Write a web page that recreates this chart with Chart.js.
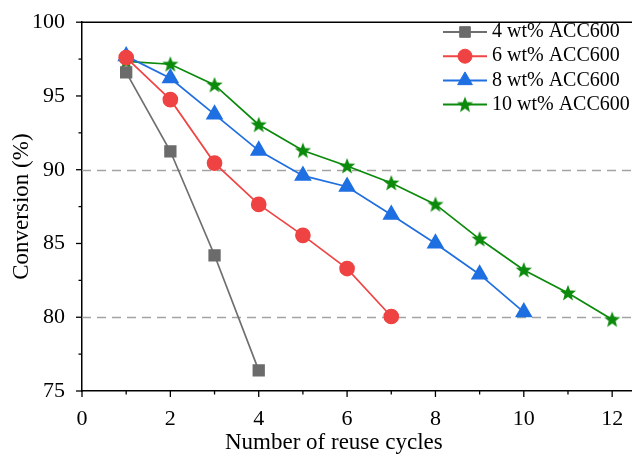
<!DOCTYPE html>
<html>
<head>
<meta charset="utf-8">
<script src="https://cdn.jsdelivr.net/npm/chart.js@4/dist/chart.umd.min.js"></script>
<style>
  html, body { margin: 0; padding: 0; background: #fff; overflow: hidden; }
</style>
</head>
<body>
<canvas id="lineChart" width="640" height="456"></canvas>
<script>
const cycles4 = [1, 2, 3, 4];
const conv4 = [96.6, 91.25, 84.2, 76.4];
const cycles6 = [1, 2, 3, 4, 5, 6, 7];
const conv6 = [97.6, 94.75, 90.45, 87.65, 85.55, 83.3, 80.05];
const cycles8 = [1, 2, 3, 4, 5, 6, 7, 8, 9, 10];
const conv8 = [97.7, 96.2, 93.75, 91.3, 89.6, 88.85, 86.95, 85.0, 82.9, 80.35];
const cycles10 = [1, 2, 3, 4, 5, 6, 7, 8, 9, 10, 11, 12];
const conv10 = [97.35, 97.15, 95.75, 93.05, 91.3, 90.25, 89.1, 87.65, 85.3, 83.2, 81.65, 79.85];
const seriesLabels = ['4 wt% ACC600', '6 wt% ACC600', '8 wt% ACC600', '10 wt% ACC600'];
const refLines = [80, 90];
const xTicks = [0, 2, 4, 6, 8, 10, 12];
const yTicks = [75, 80, 85, 90, 95, 100];
const xTitle = 'Number of reuse cycles';

const font = 'Liberation Serif';
const pts = (xs, ys) => xs.map((x, i) => ({ x: x, y: ys[i] }));

// star marker for the 10 wt% series
const star = document.createElement('canvas');
star.width = 18; star.height = 18;
(function () {
    const c = star.getContext('2d');
    c.fillStyle = '#0b8a0b';
    c.beginPath();
    for (let i = 0; i < 10; i++) {
        const r = i % 2 === 0 ? 8.5 : 3.6;
        const a = -Math.PI / 2 + i * Math.PI / 5;
        c.lineTo(9 + r * Math.cos(a), 9.5 + r * Math.sin(a));
    }
    c.closePath();
    c.fill();
})();

const refLinePlugin = {
    id: 'refLines',
    beforeDatasetsDraw(chart) {
        const { ctx, chartArea, scales } = chart;
        ctx.save();
        ctx.strokeStyle = '#a3a3a3';
        ctx.lineWidth = 1.6;
        ctx.setLineDash([9, 6]);
        refLines.forEach(v => {
            const y = Math.round(scales.y.getPixelForValue(v)) + 0.5;
            ctx.beginPath();
            ctx.moveTo(chartArea.left, y);
            ctx.lineTo(chartArea.right, y);
            ctx.stroke();
        });
        ctx.restore();
    }
};

// top frame line, major/minor outward ticks, x axis title
const axesPlugin = {
    id: 'axesFrame',
    afterDraw(chart) {
        const { ctx, chartArea, scales } = chart;
        ctx.save();
        ctx.strokeStyle = '#000';
        ctx.lineWidth = 1.5;
        ctx.beginPath();
        ctx.moveTo(chartArea.left, chartArea.top);
        ctx.lineTo(chartArea.right, chartArea.top);
        ctx.stroke();
        ctx.lineWidth = 1.3;
        for (let v = 0; v <= 12; v++) {
            const x = scales.x.getPixelForValue(v);
            const len = v % 2 === 0 ? 6 : 3.5;
            ctx.beginPath();
            ctx.moveTo(x, chartArea.bottom);
            ctx.lineTo(x, chartArea.bottom + len);
            ctx.stroke();
        }
        for (let v = 75; v <= 100; v += 2.5) {
            const y = scales.y.getPixelForValue(v);
            const len = v % 5 === 0 ? 6 : 3.5;
            ctx.beginPath();
            ctx.moveTo(chartArea.left, y);
            ctx.lineTo(chartArea.left - len, y);
            ctx.stroke();
        }
        ctx.fillStyle = '#000';
        ctx.font = '23px "' + font + '"';
        ctx.textAlign = 'center';
        ctx.textBaseline = 'alphabetic';
        ctx.fillText(xTitle, scales.x.getPixelForValue(5.7), 449);
        ctx.restore();
    }
};

// legend with line-marker-line samples
const legendPlugin = {
    id: 'lineLegend',
    afterDraw(chart) {
        const { ctx } = chart;
        ctx.save();
        ctx.font = '20px "' + font + '"';
        ctx.textBaseline = 'middle';
        chart.data.datasets.forEach((ds, i) => {
            const y = 32 + i * 24.2;
            ctx.strokeStyle = ds.borderColor;
            ctx.lineWidth = 2;
            ctx.beginPath();
            ctx.moveTo(443, y);
            ctx.lineTo(487, y);
            ctx.stroke();
            ctx.fillStyle = ds.pointBackgroundColor;
            ctx.strokeStyle = ds.pointBorderColor;
            ctx.lineWidth = 1;
            Chart.helpers.drawPoint(ctx, {
                pointStyle: ds.pointStyle,
                radius: ds.pointRadius,
                rotation: 0,
                borderWidth: 1
            }, 465, y);
            ctx.fillStyle = '#000';
            ctx.fillText(ds.label, 492, y);
        });
        ctx.restore();
    }
};

new Chart(document.getElementById('lineChart'), {
    type: 'line',
    data: {
        datasets: [
            {
                label: seriesLabels[0],
                data: pts(cycles4, conv4),
                borderColor: '#6f6f6f',
                borderWidth: 1.7,
                pointStyle: 'rect',
                pointRadius: 7.5,
                pointBackgroundColor: '#6b6b6b',
                pointBorderColor: '#6b6b6b',
            },
            {
                label: seriesLabels[1],
                data: pts(cycles6, conv6),
                borderColor: '#ef4545',
                borderWidth: 1.7,
                pointStyle: 'circle',
                pointRadius: 7,
                pointBackgroundColor: '#ef4343',
                pointBorderColor: '#ef4343',
            },
            {
                label: seriesLabels[2],
                data: pts(cycles8, conv8),
                borderColor: '#1f6fe0',
                borderWidth: 1.7,
                pointStyle: 'triangle',
                pointRadius: 8.5,
                pointBackgroundColor: '#1e6fe2',
                pointBorderColor: '#1e6fe2',
            },
            {
                label: seriesLabels[3],
                data: pts(cycles10, conv10),
                borderColor: '#0b8a0b',
                borderWidth: 1.7,
                pointStyle: star,
                pointRadius: 8,
                pointBackgroundColor: '#0b8a0b',
                pointBorderColor: '#0b8a0b',
            }
        ]
    },
    options: {
        responsive: false,
        animation: false,
        layout: { autoPadding: false, padding: { top: 17, right: 0, left: 0, bottom: 0 } },
        plugins: {
            legend: { display: false },
            tooltip: { enabled: false }
        },
        scales: {
            x: {
                type: 'linear',
                min: 0,
                max: 12.63,
                afterBuildTicks: s => { s.ticks = xTicks.map(v => ({ value: v })); },
                afterFit: s => { s.height = 65; },
                grid: { display: false },
                border: { color: '#000', width: 1.5 },
                ticks: {
                    color: '#000',
                    padding: 7,
                    maxRotation: 0,
                    font: { family: font, size: 22 }
                },
                title: { display: false }
            },
            y: {
                min: 75,
                max: 100,
                afterBuildTicks: s => { s.ticks = yTicks.map(v => ({ value: v })); },
                afterFit: s => { s.width = 82; },
                grid: { display: false },
                border: { color: '#000', width: 1.5 },
                ticks: {
                    color: '#000',
                    padding: 9,
                    font: { family: font, size: 22 }
                },
                title: {
                    display: true,
                    text: 'Conversion (%)',
                    color: '#000',
                    padding: { top: 8, bottom: 0 },
                    font: { family: font, size: 23 }
                }
            }
        }
    },
    plugins: [refLinePlugin, axesPlugin, legendPlugin]
});
</script>
</body>
</html>
